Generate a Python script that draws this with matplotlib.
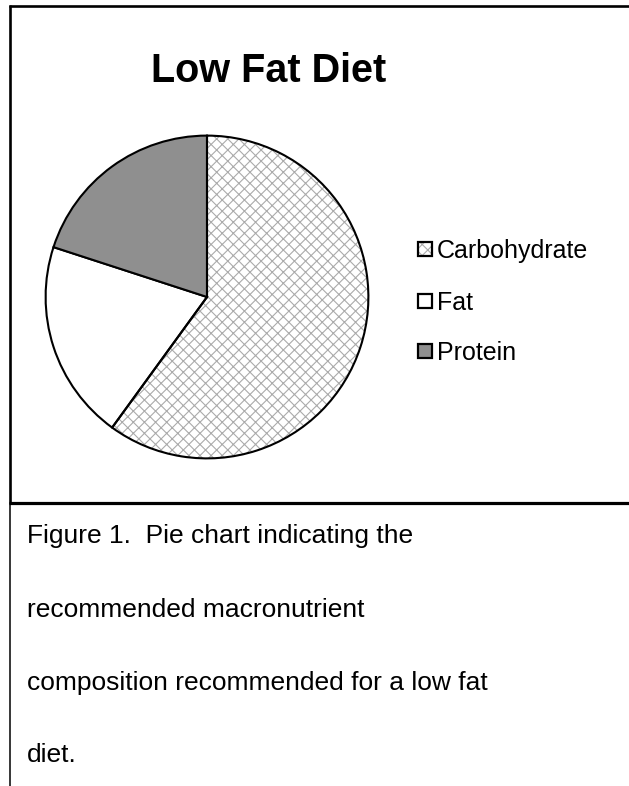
import matplotlib
matplotlib.use("Agg")
import matplotlib.pyplot as plt
from matplotlib.patches import Rectangle, Wedge
from matplotlib.lines import Line2D

plt.rcParams["font.family"] = ["Liberation Sans", "DejaVu Sans"]
plt.rcParams["hatch.linewidth"] = 0.8

# data
labels = ["Carbohydrate", "Fat", "Protein"]
values = [60, 20, 20]
fills = ["white", "white", "#8f8f8f"]
hatches = ["xxx", None, None]
caption = ["Figure 1.  Pie chart indicating the",
           "recommended macronutrient",
           "composition recommended for a low fat",
           "diet."]

HATCH_GREY = "#ababab"

W, H = 629, 786
fig = plt.figure(figsize=(W / 100, H / 100), dpi=100)
fig.patch.set_facecolor("white")


def fx(px):
    return px / W


def fy(py):
    return (H - py) / H


# frame lines
def hline(y, x0, x1, lw):
    fig.add_artist(Line2D([fx(x0), fx(x1)], [fy(y), fy(y)], color="black", lw=lw,
                          solid_capstyle="butt"))


def vline(x, y0, y1, lw):
    fig.add_artist(Line2D([fx(x), fx(x)], [fy(y0), fy(y1)], color="black", lw=lw,
                          solid_capstyle="butt"))


hline(6, 9, 629, 1.9)
vline(10, 5, 503, 1.9)
hline(503, 9, 629, 2.3)
vline(10, 503, 786, 1.1)

# pie
cx, cy, r = 207, 297, 163
ax = fig.add_axes([fx(cx - r), fy(cy + r), 2 * r / W, 2 * r / H])
wedges, _ = ax.pie(values, startangle=90, counterclock=False, colors=fills,
                   wedgeprops=dict(edgecolor="black", linewidth=1.5))
for w, h in zip(wedges, hatches):
    if h:
        # hatch takes the edge colour, so hatch in grey and redraw the outline on top
        w.set_hatch(h)
        w.set_edgecolor(HATCH_GREY)
        w.set_linewidth(0)
        ax.add_patch(Wedge(w.center, w.r, w.theta1, w.theta2, facecolor="none",
                           edgecolor="black", linewidth=1.5))
ax.set_xlim(-1.01, 1.01)
ax.set_ylim(-1.01, 1.01)
ax.axis("off")

# title
fig.text(fx(269), fy(82), "Low Fat Diet", ha="center", va="baseline",
         fontsize=28.5, fontweight="bold")

# legend
leg_y = [258, 310, 360]
for lab, w, h, y in zip(labels, wedges, hatches, leg_y):
    sq = Rectangle((fx(418), fy(y - 2)), 14 / W, 14 / H, transform=fig.transFigure,
                   facecolor=w.get_facecolor(), edgecolor=HATCH_GREY if h else "black",
                   lw=0, hatch=h)
    fig.add_artist(sq)
    fig.add_artist(Rectangle((fx(418), fy(y - 2)), 14 / W, 14 / H,
                             transform=fig.transFigure, facecolor="none",
                             edgecolor="black", lw=1.6))
    fig.text(fx(437), fy(y), lab, ha="left", va="baseline", fontsize=18)

# caption
cap_y = [543, 617, 690, 762]
for line, y in zip(caption, cap_y):
    fig.text(fx(27), fy(y), line, ha="left", va="baseline", fontsize=19)

fig.savefig("out.png", dpi=100, facecolor="white")
